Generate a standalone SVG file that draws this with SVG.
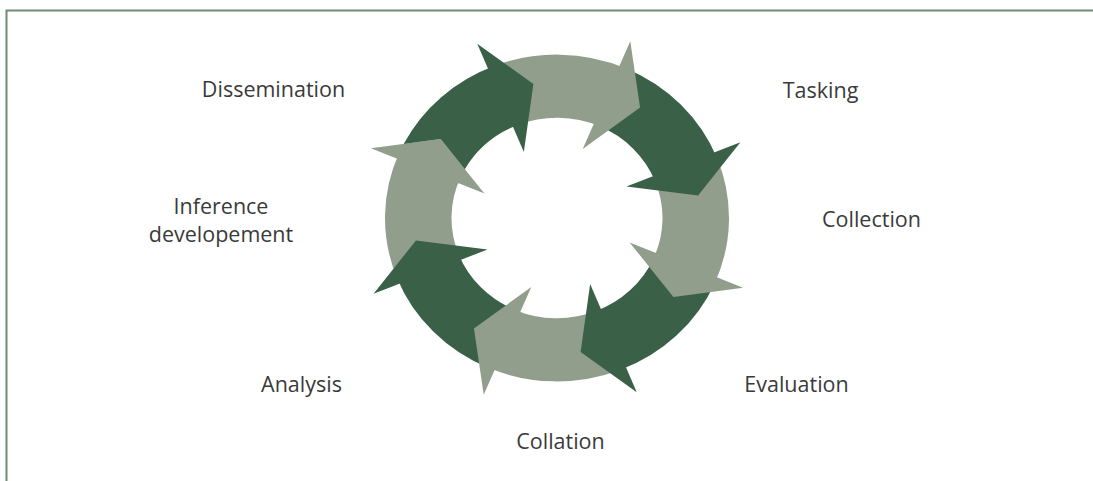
<svg xmlns="http://www.w3.org/2000/svg" width="1093" height="481" viewBox="0 0 1093 481">
<style>
.dark{fill:#3a6148}
.light{fill:#929e8c}
.frame{fill:none;stroke:#6e8b76;stroke-width:2}
.lbl{font-family:"Open Sans","Noto Sans","Liberation Sans",sans-serif;font-weight:400;font-size:21.5px;fill:#3a3a3a;text-anchor:middle}
</style>
<rect width="1093" height="481" fill="#ffffff"/>
<g id="frame">
<path class="frame" d="M6.5 481 V10.5 H1093"/>
</g>
<g id="cycle" transform="translate(557,218) scale(1,0.95)">
<g id="arrow-h"><path class="light" d="M-160.03 63.04 A172 172 0 0 1 -157.73 -68.59 L-96.75 -42.07 A105.5 105.5 0 0 0 -98.16 38.67 Z M-186.08 -73.30 L-116.42 -83.04 L-72.58 -25.70 Z"/></g>
<g id="arrow-g"><path class="dark" d="M-68.59 157.73 A172 172 0 0 1 -160.03 63.04 L-98.16 38.67 A105.5 105.5 0 0 0 -42.07 96.75 Z M-183.41 79.75 L-141.04 23.60 L-69.50 33.15 Z"/></g>
<g id="arrow-f"><path class="light" d="M63.04 160.03 A172 172 0 0 1 -68.59 157.73 L-42.07 96.75 A105.5 105.5 0 0 0 38.67 98.16 Z M-73.30 186.08 L-83.04 116.42 L-25.70 72.58 Z"/></g>
<g id="arrow-e"><path class="dark" d="M157.73 68.59 A172 172 0 0 1 63.04 160.03 L38.67 98.16 A105.5 105.5 0 0 0 96.75 42.07 Z M79.75 183.41 L23.60 141.04 L33.15 69.50 Z"/></g>
<g id="arrow-d"><path class="light" d="M160.03 -63.04 A172 172 0 0 1 157.73 68.59 L96.75 42.07 A105.5 105.5 0 0 0 98.16 -38.67 Z M186.08 73.30 L116.42 83.04 L72.58 25.70 Z"/></g>
<g id="arrow-c"><path class="dark" d="M68.59 -157.73 A172 172 0 0 1 160.03 -63.04 L98.16 -38.67 A105.5 105.5 0 0 0 42.07 -96.75 Z M183.41 -79.75 L141.04 -23.60 L69.50 -33.15 Z"/></g>
<g id="arrow-b"><path class="light" d="M-63.04 -160.03 A172 172 0 0 1 68.59 -157.73 L42.07 -96.75 A105.5 105.5 0 0 0 -38.67 -98.16 Z M73.30 -186.08 L83.04 -116.42 L25.70 -72.58 Z"/></g>
<g id="arrow-a"><path class="dark" d="M-153.36 -77.87 A172 172 0 0 1 -63.04 -160.03 L-38.67 -98.16 A105.5 105.5 0 0 0 -92.18 -51.32 L-116.42 -83.04 Z M-79.75 -183.41 L-23.60 -141.04 L-33.15 -69.50 Z"/></g>
</g>
<g id="labels">
<text id="t-dissemination" class="lbl" x="273.5" y="97">Dissemination</text>
<text id="t-tasking" class="lbl" x="820.5" y="98">Tasking</text>
<text id="t-collection" class="lbl" x="871.5" y="227">Collection</text>
<text id="t-evaluation" class="lbl" x="796.5" y="392">Evaluation</text>
<text id="t-collation" class="lbl" x="560.5" y="449">Collation</text>
<text id="t-analysis" class="lbl" x="301.5" y="392">Analysis</text>
<text id="t-inference-1" class="lbl" x="221" y="214">Inference</text>
<text id="t-inference-2" class="lbl" x="221" y="242">developement</text>
</g>
</svg>
